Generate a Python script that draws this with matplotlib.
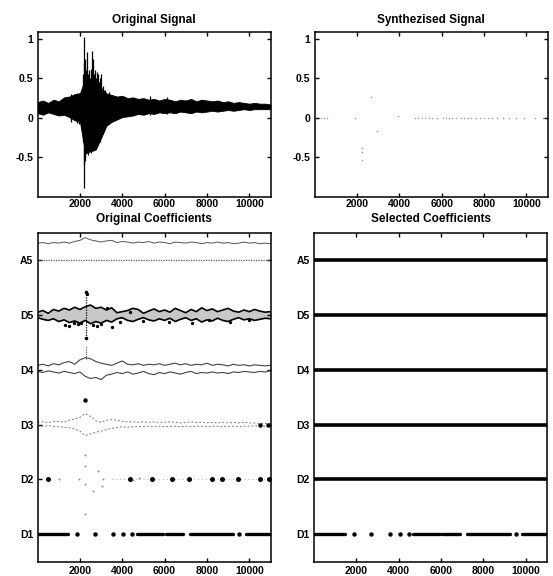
import matplotlib
matplotlib.use("Agg")
import matplotlib.pyplot as plt
import numpy as np

plt.rcParams["font.family"] = ["Liberation Sans", "DejaVu Sans"]
plt.rcParams["font.weight"] = "bold"

# ---------------------------------------------------------------- data
# sample grid shared by the envelope / coefficient traces
grid_x = list(range(0, 11001, 250))

# original signal: lower / upper envelope of the dense band
sig_hi = [0.20, 0.22, 0.19, 0.23, 0.21, 0.26, 0.27, 0.30, 0.31, 0.50, 0.48, 0.45,
          0.38, 0.31, 0.29, 0.27, 0.28, 0.25, 0.26, 0.24, 0.25, 0.23, 0.24, 0.22,
          0.24, 0.23, 0.21, 0.23, 0.22, 0.24, 0.21, 0.23, 0.22, 0.21, 0.22, 0.20,
          0.21, 0.19, 0.20, 0.19, 0.18, 0.19, 0.18, 0.18, 0.17]
sig_lo = [0.06, 0.04, 0.07, 0.05, 0.03, 0.04, 0.01, -0.03, -0.05, -0.45, -0.42, -0.40,
          -0.25, -0.10, -0.05, -0.02, 0.01, 0.02, 0.03, 0.05, 0.04, 0.06, 0.05, 0.07,
          0.06, 0.07, 0.06, 0.08, 0.07, 0.06, 0.08, 0.07, 0.08, 0.09, 0.08, 0.09,
          0.10, 0.09, 0.10, 0.11, 0.10, 0.11, 0.11, 0.11, 0.11]
# individual oscillation peaks of the burst
peak_x = [1600, 1850, 1950, 2100, 2150, 2175, 2200, 2230, 2260, 2300, 2340, 2380,
          2420, 2470, 2520, 2560, 2600, 2650, 2700, 2750, 2800, 2850, 2900, 2950,
          3000, 3100, 3200, 3350, 5300, 6100]
peak_lo = [-0.05, -0.06, -0.08, -0.10, -0.30, -0.89, -0.60, -0.55, -0.50, -0.45, -0.40,
           -0.47, -0.42, -0.40, -0.45, -0.38, -0.42, -0.35, -0.38, -0.33, -0.36, -0.30,
           -0.28, -0.30, -0.25, -0.20, -0.10, -0.06, 0.04, 0.05]
peak_hi = [0.30, 0.32, 0.31, 0.33, 0.55, 1.02, 0.70, 0.65, 0.75, 0.60, 0.83, 0.55,
           0.60, 0.50, 0.62, 0.85, 0.75, 0.55, 0.60, 0.50, 0.58, 0.55, 0.45, 0.50,
           0.56, 0.40, 0.35, 0.33, 0.28, 0.27]

# synthesised signal: the few surviving samples
syn_x = [150, 300, 450, 600, 1900, 2250, 2250, 2250, 2650, 2950, 3950, 4750, 4900,
         5050, 5200, 5400, 5550, 5800, 6050, 6200, 6350, 6500, 6700, 6900, 7050,
         7250, 7400, 7600, 7800, 8000, 8200, 8400, 8600, 8900, 9200, 9500, 9900,
         10400, 10800]
syn_y = [0, 0, 0, 0, 0, -0.38, -0.43, -0.53, 0.26, -0.17, 0.02, 0, 0,
         0, 0, 0, 0, 0, 0, 0, 0, 0, 0, 0, 0,
         0, 0, 0, 0, 0, 0, 0, 0, 0, 0, 0, 0,
         0, 0]

# coefficient rows (bottom to top)
level_labels = ["D1", "D2", "D3", "D4", "D5", "A5"]

a5_trace = [6.31, 6.32, 6.30, 6.32, 6.31, 6.33, 6.31, 6.34, 6.36, 6.41, 6.37, 6.35,
            6.33, 6.35, 6.36, 6.32, 6.34, 6.33, 6.31, 6.33, 6.32, 6.34, 6.31, 6.33,
            6.32, 6.30, 6.33, 6.32, 6.31, 6.33, 6.32, 6.30, 6.32, 6.31, 6.33, 6.31,
            6.32, 6.30, 6.31, 6.33, 6.31, 6.32, 6.30, 6.31, 6.30]
d5_hi = [5.05, 5.08, 5.03, 5.10, 5.07, 5.12, 5.09, 5.14, 5.10, 5.15, 5.18, 5.12,
         5.14, 5.09, 5.13, 5.04, 5.06, 5.08, 5.12, 5.10, 5.03, 5.07, 5.11, 5.06,
         5.09, 5.05, 5.12, 5.08, 5.04, 5.10, 5.06, 5.13, 5.08, 5.11, 5.06, 5.09,
         5.12, 5.07, 5.05, 5.09, 5.06, 5.10, 5.07, 5.05, 5.06]
d5_lo = [4.95, 4.92, 4.90, 4.93, 4.88, 4.91, 4.86, 4.89, 4.85, 4.90, 4.84, 4.88,
         4.85, 4.90, 4.87, 4.93, 4.95, 4.90, 4.88, 4.92, 4.95, 4.91, 4.89, 4.93,
         4.90, 4.94, 4.88, 4.92, 4.95, 4.90, 4.93, 4.87, 4.91, 4.89, 4.94, 4.90,
         4.88, 4.92, 4.95, 4.91, 4.93, 4.90, 4.92, 4.94, 4.93]
d5_dot_x = [1300, 1500, 1700, 1900, 2050, 2350, 2600, 2800, 3000, 3300, 3500, 3900,
            4350, 5000, 6200, 7300, 8100, 9100, 10000]
d5_dot_y = [4.82, 4.80, 4.85, 4.83, 4.86, 5.38, 4.82, 4.80, 4.84, 5.12, 4.78, 4.88,
            5.06, 4.89, 4.88, 4.86, 4.90, 4.88, 4.90]
d5_spike = [2300, 4.57, 5.42]

d4_hi = [4.08, 4.10, 4.07, 4.11, 4.09, 4.13, 4.15, 4.10, 4.18, 4.22, 4.20, 4.15,
         4.12, 4.10, 4.08, 4.12, 4.16, 4.10, 4.09, 4.11, 4.08, 4.10, 4.09, 4.11,
         4.08, 4.10, 4.12, 4.09, 4.11, 4.08, 4.10, 4.09, 4.12, 4.08, 4.10, 4.09,
         4.07, 4.10, 4.08, 4.09, 4.07, 4.09, 4.08, 4.07, 4.08]
d4_lo = [3.97, 3.95, 3.98, 3.96, 3.94, 3.97, 3.95, 3.93, 3.96, 3.88, 3.84, 3.86,
         3.82, 3.90, 3.92, 3.95, 3.93, 3.96, 3.92, 3.94, 3.97, 3.93, 3.91, 3.95,
         3.93, 3.96, 3.94, 3.92, 3.95, 3.97, 3.93, 3.95, 3.94, 3.96, 3.94, 3.95,
         3.93, 3.96, 3.95, 3.97, 3.96, 3.95, 3.97, 3.96, 3.98]
d4_spike = [2300, 4.20, 4.44]

d3_hi = [3.04, 3.05, 3.04, 3.05, 3.06, 3.04, 3.08, 3.10, 3.13, 3.20, 3.15, 3.07,
         3.04, 3.08, 3.09, 3.08, 3.06, 3.05, 3.05, 3.04, 3.05, 3.04, 3.05, 3.04,
         3.04, 3.05, 3.04, 3.03, 3.04, 3.05, 3.04, 3.04, 3.03, 3.04, 3.03, 3.04,
         3.03, 3.04, 3.03, 3.04, 3.03, 3.03, 3.02, 3.02, 3.02]
d3_lo = [2.98, 2.97, 2.98, 2.97, 2.96, 2.95, 2.94, 2.92, 2.88, 2.80, 2.83, 2.86,
         2.88, 2.91, 2.93, 2.95, 2.96, 2.95, 2.96, 2.97, 2.96, 2.97, 2.96, 2.97,
         2.96, 2.97, 2.97, 2.96, 2.97, 2.96, 2.97, 2.97, 2.96, 2.97, 2.97, 2.96,
         2.97, 2.97, 2.96, 2.97, 2.97, 2.98, 2.97, 2.97, 2.97]
d3_dot_x = [2236, 10500, 10900]
d3_dot_y = [3.44, 3.00, 3.00]

d2_big_x = [470, 4370, 5390, 6340, 7170, 8260, 8700, 9460, 10510, 10950]
d2_small_x = [1020, 1970, 2250, 2250, 2870, 3070, 2250, 2600, 3030, 2250, 4500, 4800]
d2_small_y = [2.00, 2.00, 2.44, 2.25, 2.15, 2.00, 1.91, 1.78, 1.88, 1.37, 1.98, 2.03]

d1_runs = [(0, 1450), (4680, 5940), (6050, 6880), (7200, 9250), (9830, 11000)]
d1_dots = [1870, 2710, 3575, 4050, 4470, 9530]

x_ticks = [2000, 4000, 6000, 8000, 10000]
sig_ticks = [-0.5, 0, 0.5, 1]
sig_tick_labels = ["-0.5", "0", "0.5", "1"]

# ---------------------------------------------------------------- figure
fig = plt.figure(figsize=(5.53, 5.76), dpi=100)
W = 0.422
ax_sig = fig.add_axes([0.068, 0.658, W, 0.287])
ax_syn = fig.add_axes([0.569, 0.658, W, 0.287])
ax_oc = fig.add_axes([0.068, 0.025, W, 0.571])
ax_sc = fig.add_axes([0.568, 0.025, W, 0.571])

XMAX = 11025


def frame(ax, xpad=3):
    ax.tick_params(direction="in", length=3, width=1, top=True, right=True,
                   labelsize=7.5, pad=3)
    ax.tick_params(axis="x", pad=xpad)
    for s in ax.spines.values():
        s.set_linewidth(1.1)
    ax.set_xlim(0, XMAX)
    ax.set_xticks(x_ticks)


# original signal
ax_sig.fill_between(grid_x, sig_lo, sig_hi, color="black", lw=0.6)
ax_sig.vlines(peak_x, peak_lo, peak_hi, color="black", lw=0.9)
frame(ax_sig, xpad=1.5)
ax_sig.set_ylim(-1.0, 1.09)
ax_sig.set_yticks(sig_ticks, sig_tick_labels)
ax_sig.set_title("Original Signal", fontsize=8.5, fontweight="bold", pad=6)

# synthesised signal
ax_syn.scatter(syn_x, syn_y, s=1.2, color="#9a9a9a", lw=0)
frame(ax_syn, xpad=1.5)
ax_syn.set_ylim(-1.0, 1.09)
ax_syn.set_yticks(sig_ticks, sig_tick_labels)
ax_syn.set_title("Synthezised Signal", fontsize=8.5, fontweight="bold", pad=6)

levels = list(range(1, len(level_labels) + 1))


def d1_row(ax):
    for a, b in d1_runs:
        ax.plot([a, b], [1, 1], color="black", lw=2.4, solid_capstyle="round")
    ax.plot(d1_dots, [1] * len(d1_dots), "o", color="black", ms=3.2, mec="none")


# original coefficients
oc = ax_oc
oc.plot([0, XMAX], [6, 6], color="#555555", lw=0.9, ls=(0, (1, 1)))
oc.plot(grid_x, a5_trace, color="#555555", lw=0.7)
oc.fill_between(grid_x, d5_lo, d5_hi, color="#c8c8c8", lw=0)
oc.plot(grid_x, d5_hi, color="black", lw=1.2)
oc.plot(grid_x, d5_lo, color="black", lw=1.2)
oc.plot(d5_dot_x, d5_dot_y, "o", color="black", ms=2.4, mec="none")
oc.plot([d5_spike[0]] * 2, d5_spike[1:], color="black", lw=0.9, ls=(0, (1, 1)))
oc.plot([d5_spike[0]] * 2, d5_spike[1:], "o", color="black", ms=2.6, mec="none")
oc.plot(grid_x, d4_hi, color="#444444", lw=0.8)
oc.plot(grid_x, d4_lo, color="#444444", lw=0.8)
oc.plot([d4_spike[0]] * 2, d4_spike[1:], color="#444444", lw=0.8, ls=(0, (1, 1)))
oc.plot(grid_x, d3_hi, color="#7a7a7a", lw=0.7, ls=(0, (2, 2)))
oc.plot(grid_x, d3_lo, color="#7a7a7a", lw=0.7, ls=(0, (2, 2)))
oc.plot(d3_dot_x, d3_dot_y, "o", color="black", ms=3.2, mec="none")
oc.plot([3500, XMAX], [2, 2], color="#b0b0b0", lw=0.7, ls=(0, (1, 3)))
oc.plot(d2_big_x, [2] * len(d2_big_x), "o", color="black", ms=3.6, mec="none")
oc.plot(d2_small_x, d2_small_y, "o", color="#8a8a8a", ms=1.4, mec="none")
d1_row(oc)
frame(oc)
oc.set_ylim(0.5, 6.5)
oc.set_yticks(levels, level_labels)
oc.set_title("Original Coefficients", fontsize=8.5, fontweight="bold", pad=8)

# selected coefficients
sc = ax_sc
for lv in levels[1:]:
    sc.plot([0, XMAX], [lv, lv], color="black", lw=2.6, solid_capstyle="butt")
d1_row(sc)
frame(sc)
sc.set_ylim(0.5, 6.5)
sc.set_yticks(levels, level_labels)
sc.set_title("Selected Coefficients", fontsize=8.5, fontweight="bold", pad=8)

fig.savefig("out.png", dpi=100)
